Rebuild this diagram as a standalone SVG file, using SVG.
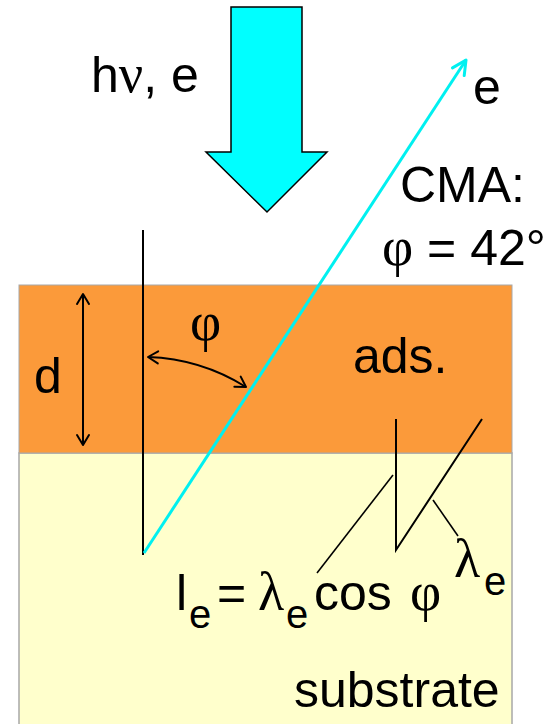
<svg xmlns="http://www.w3.org/2000/svg" width="553" height="724" viewBox="0 0 553 724">
<defs>
<style>
.t{font-family:"Liberation Sans",Arial,sans-serif;font-size:50px;fill:#000}
.g{font-family:"Liberation Serif","Times New Roman",serif;font-size:54px}
.s{font-size:40px}
.ln{stroke:#000;stroke-width:2;fill:none}
.hd{stroke:#000;stroke-width:2;fill:none;stroke-linecap:round;stroke-linejoin:round}
</style>
<marker id="ah" viewBox="-12 -8 14 16" markerWidth="14" markerHeight="16" refX="0" refY="0" orient="auto-start-reverse" markerUnits="userSpaceOnUse">
<path d="M-10,-6 L0,0 L-10,6" class="hd"/>
</marker>
<marker id="ahc" viewBox="-16 -10 18 20" markerWidth="18" markerHeight="20" refX="0" refY="0" orient="auto" markerUnits="userSpaceOnUse">
<path d="M-14,-7 L0,0 L-14,7" fill="none" stroke="#00f0f0" stroke-width="3" stroke-linecap="round" stroke-linejoin="round"/>
</marker>
</defs>
<g id="substrate">
<rect x="19" y="453" width="493" height="275" fill="#ffffcc" stroke="#a8a8a8" stroke-width="1.5"/>
</g>
<g id="adsorbate">
<rect x="19" y="285" width="493" height="168" fill="#fb9a3a" stroke="#a8a8a8" stroke-width="1"/>
</g>
<g id="beam">
<path d="M231,7 L302,7 L302,152 L327,152 L267,212 L206,152 L231,152 Z" fill="#00ffff" stroke="#000" stroke-width="1.5" stroke-linejoin="miter"/>
</g>
<g id="connectors">
<line x1="143" y1="230" x2="143" y2="555" class="ln"/>
<line x1="144" y1="553" x2="466" y2="60" stroke="#00f0f0" stroke-width="3" marker-end="url(#ahc)"/>
<line x1="83" y1="294" x2="83" y2="445" class="ln" marker-start="url(#ah)" marker-end="url(#ah)"/>
<path d="M148,357 A197,197 0 0 1 246,387" class="ln" marker-start="url(#ah)" marker-end="url(#ah)"/>
<polyline points="396,419 396,550 482,419" class="ln"/>
<line x1="393" y1="475" x2="317" y2="573" stroke="#000" stroke-width="1.6"/>
<line x1="433" y1="500" x2="458" y2="536" stroke="#000" stroke-width="1.6"/>
</g>
<g id="labels">
<text class="t" y="92"><tspan x="91">h</tspan><tspan class="g">ν</tspan><tspan>, e</tspan></text>
<text class="t" x="473" y="104">e</text>
<text class="t" x="400" y="202">CMA:</text>
<text class="t" y="265"><tspan x="382" class="g">φ</tspan><tspan> = 42°</tspan></text>
<text class="t" x="190" y="340"><tspan class="g">φ</tspan></text>
<text class="t" x="34" y="393">d</text>
<text class="t" x="353" y="373">ads.</text>
<text class="t"><tspan x="176" y="610">l</tspan><tspan x="189" y="628" class="s">e</tspan><tspan x="217" y="610">=</tspan><tspan x="258" y="610" class="g">λ</tspan><tspan x="286" y="628" class="s">e</tspan><tspan x="314" y="610">cos</tspan><tspan x="410" y="610" class="g">φ</tspan></text>
<text class="t"><tspan x="454" y="577" class="g">λ</tspan><tspan x="484" y="595" class="s">e</tspan></text>
<text class="t" x="294" y="707">substrate</text>
</g>
</svg>
